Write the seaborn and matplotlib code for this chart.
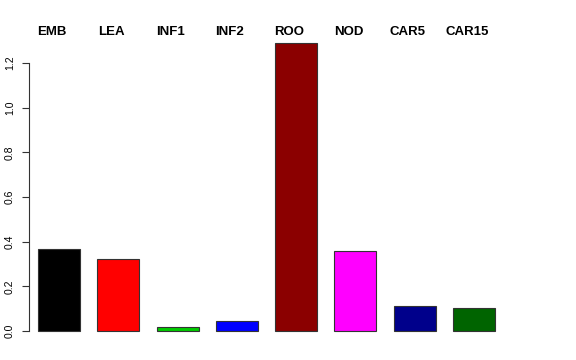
import matplotlib
matplotlib.use("Agg")
import matplotlib.pyplot as plt
import seaborn as sns
import pandas as pd

tissues = ["EMB", "LEA", "INF1", "INF2", "ROO", "NOD", "CAR5", "CAR15"]
values = [0.367, 0.322, 0.020, 0.045, 1.29, 0.360, 0.112, 0.105]
colors = ["#000000", "#FF0000", "#00CD00", "#0000FF", "#8B0000", "#FF00FF", "#00008B", "#006400"]
yticks = [0.0, 0.2, 0.4, 0.6, 0.8, 1.0, 1.2]

sns.set_style("white")
plt.rcParams['font.family'] = ['Liberation Sans', 'DejaVu Sans']
plt.rcParams['text.color'] = 'black'
plt.rcParams['ytick.color'] = 'black'
plt.rcParams['ytick.labelcolor'] = 'black'

df = pd.DataFrame({"tissue": tissues, "value": values})

fig = plt.figure(figsize=(5.76, 3.6), dpi=100)
ax = fig.add_axes([29/576, 17.5/360, 475/576, 311.1/360])
sns.barplot(data=df, x="tissue", y="value", hue="tissue", palette=colors,
            legend=False, width=0.71, edgecolor="#333333", linewidth=0.8,
            saturation=1, ax=ax)
ax.set_xlim(-0.506, 7.506)
ax.set_ylim(-0.0516, 1.3416)
for s in ["top", "right", "bottom"]:
    ax.spines[s].set_visible(False)
ax.spines["left"].set_bounds(0, 1.2)
ax.spines["left"].set_color("#333333")
ax.spines["left"].set_linewidth(0.8)
ax.set_yticks(yticks)
ax.set_yticklabels([f"{t:.1f}" for t in yticks], rotation=90, va="center", fontsize=7.5)
ax.tick_params(axis="y", left=True, length=5, width=0.8, color="#333333", pad=5,
               labelcolor="black")
ax.set_xticks([])
ax.set_xlabel("")
ax.set_ylabel("")
for i, t in enumerate(tissues):
    ax.text(i - 0.12, 1.29 + 0.05, t, ha="center", va="center",
            fontsize=9.5, fontweight="bold", color="black",
            transform=ax.transData, clip_on=False)

fig.savefig("out.png", dpi=100)
